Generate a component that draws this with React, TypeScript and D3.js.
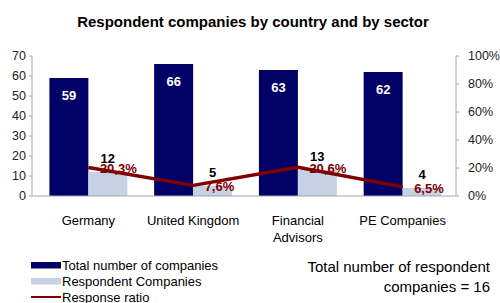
import React from "react";
import * as d3 from "d3";

const categories = ["Germany", "United Kingdom", "Financial|Advisors", "PE Companies"];
const totalCompanies = [59, 66, 63, 62];
const respondentCompanies = [12, 5, 13, 4];
const responseRatio = [0.203, 0.076, 0.206, 0.065];
const ratioLabels = ["20,3%", "7,6%", "20,6%", "6,5%"];
const leftTicks = [0, 10, 20, 30, 40, 50, 60, 70];
const rightTicks = [0, 0.2, 0.4, 0.6, 0.8, 1.0];
const legendItems = ["Total number of companies", "Respondent Companies", "Response ratio"];

const W = 500;
const H = 303;
const FONT = "'Liberation Sans', Arial, sans-serif";
const DARK = "#000066";
const LIGHT = "#c6d1e6";
const RED = "#800000";
const AXIS = "#a6a6a6";

export default function App() {
  const x0 = d3.scaleBand<string>().domain(categories).range([36, 455]).padding(0);
  const bw = x0.bandwidth();
  const x1 = d3
    .scaleBand<string>()
    .domain(["total", "resp"])
    .range([bw * 0.128, bw * 0.872])
    .padding(0);
  const yL = d3.scaleLinear().domain([0, 70]).range([196, 56]);
  const yR = d3.scaleLinear().domain([0, 1]).range([196, 56]);
  const axisLeftX = 32;
  const axisRightX = 456;

  const linePath = d3
    .line<number>()
    .x((_, i) => (x0(categories[i]) as number) + bw / 2)
    .y((d) => yR(d))(responseRatio) as string;

  return (
    <svg width={W} height={H} style={{ position: "absolute", left: 0, top: 0 }} fontFamily={FONT}>
      <rect width={W} height={H} fill="#ffffff" />
      <text x={253} y={27} textAnchor="middle" fontSize={15} fontWeight="bold" fill="#000">
        Respondent companies by country and by sector
      </text>

      {/* left axis */}
      <line x1={axisLeftX} x2={axisLeftX} y1={yL(70)} y2={yL(0)} stroke={AXIS} strokeWidth={1} />
      {leftTicks.map((t) => (
        <g key={"l" + t}>
          <line x1={axisLeftX - 3} x2={axisLeftX} y1={yL(t)} y2={yL(t)} stroke={AXIS} />
          <text x={26} y={yL(t)} dy="0.35em" textAnchor="end" fontSize={12.5} fill="#222">
            {t}
          </text>
        </g>
      ))}

      {/* right axis */}
      <line x1={axisRightX} x2={axisRightX} y1={yR(1)} y2={yR(0)} stroke={AXIS} strokeWidth={1} />
      {rightTicks.map((t) => (
        <g key={"r" + t}>
          <line x1={axisRightX} x2={axisRightX + 3} y1={yR(t)} y2={yR(t)} stroke={AXIS} />
          <text x={468} y={yR(t)} dy="0.35em" textAnchor="start" fontSize={12.5} fill="#222">
            {Math.round(t * 100) + "%"}
          </text>
        </g>
      ))}

      {/* bars */}
      {categories.map((c, i) => {
        const gx = x0(c) as number;
        const tx = gx + (x1("total") as number);
        const rx = gx + (x1("resp") as number);
        const w = x1.bandwidth();
        return (
          <g key={c}>
            <rect x={tx} y={yL(totalCompanies[i])} width={w} height={yL(0) - yL(totalCompanies[i])} fill={DARK} />
            <rect x={rx} y={yL(respondentCompanies[i])} width={w} height={yL(0) - yL(respondentCompanies[i])} fill={LIGHT} />
          </g>
        );
      })}

      {/* bottom axis */}
      <line x1={axisLeftX} x2={axisRightX} y1={yL(0)} y2={yL(0)} stroke={AXIS} strokeWidth={1} />

      {/* line */}
      <path d={linePath} fill="none" stroke={RED} strokeWidth={3.5} strokeLinejoin="round" />

      {/* labels */}
      {categories.map((c, i) => {
        const gx = x0(c) as number;
        const w = x1.bandwidth();
        const tx = gx + (x1("total") as number) + w / 2;
        const rx = gx + (x1("resp") as number) + w / 2;
        const cx = gx + bw / 2;
        return (
          <g key={"lab" + c} fontWeight="bold" fontSize={13}>
            <text x={tx} y={yL(totalCompanies[i]) + 17} dy="0.35em" textAnchor="middle" fill="#fff">
              {totalCompanies[i]}
            </text>
            <text x={rx} y={yL(respondentCompanies[i]) - 14} dy="0.35em" textAnchor="middle" fill="#000">
              {respondentCompanies[i]}
            </text>
            <text x={cx + 11.5} y={yR(responseRatio[i]) + 1.3} dy="0.35em" textAnchor="start" fill={RED}>
              {ratioLabels[i]}
            </text>
          </g>
        );
      })}

      {/* category labels */}
      {categories.map((c) => {
        const cx = (x0(c) as number) + bw / 2;
        const parts = c.split("|");
        return (
          <text key={"cat" + c} x={cx} y={220} dy="0.35em" textAnchor="middle" fontSize={13} fill="#000">
            {parts.map((p, j) => (
              <tspan key={j} x={cx} dy={j === 0 ? "0.35em" : 17.7}>
                {p}
              </tspan>
            ))}
          </text>
        );
      })}

      {/* legend */}
      <rect x={31} y={262} width={30} height={6.5} fill={DARK} />
      <rect x={31} y={278} width={30} height={6.5} fill={LIGHT} />
      <line x1={31} x2={61} y1={297} y2={297} stroke={RED} strokeWidth={2} />
      {legendItems.map((t, i) => (
        <text key={t} x={62} y={265 + i * 16} dy="0.35em" fontSize={13} fill="#000">
          {t}
        </text>
      ))}

      {/* note */}
      <text x={490} y={267} dy="0.35em" textAnchor="end" fontSize={15} fill="#000">
        Total number of respondent
      </text>
      <text x={490} y={287} dy="0.35em" textAnchor="end" fontSize={15} fill="#000">
        companies = 16
      </text>
    </svg>
  );
}
